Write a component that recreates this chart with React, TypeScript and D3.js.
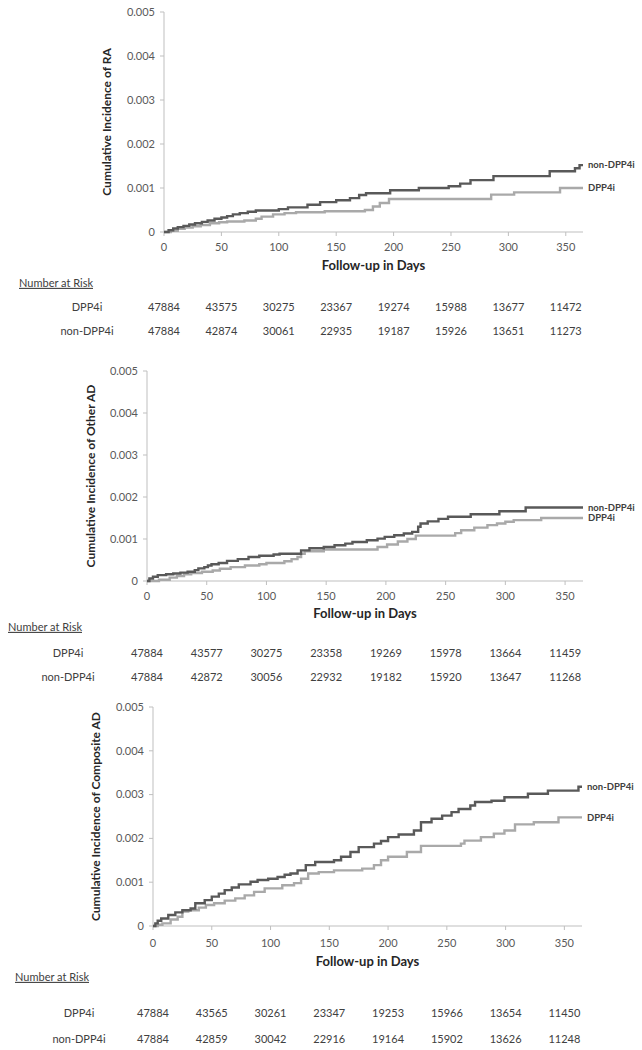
import React from "react";
import * as d3 from "d3";

// ---------- DATA ----------
const xTickDays = [0, 50, 100, 150, 200, 250, 300, 350];
const yTickValues = [0, 0.001, 0.002, 0.003, 0.004, 0.005];
const yTickLabels = ["0", "0.001", "0.002", "0.003", "0.004", "0.005"];
const seriesNames = ["DPP4i", "non-DPP4i"];
const yTitles = [
  "Cumulative Incidence of RA",
  "Cumulative Incidence of Other AD",
  "Cumulative Incidence of Composite AD",
];
const xTitle = "Follow-up in Days";
const riskTitle = "Number at Risk";

// step points [day, cumulative incidence]
const raNon: [number, number][] = [
  [0, 0], [4, 0.00004], [8, 0.00008], [12, 0.00011], [17, 0.00014], [22, 0.00017],
  [27, 0.0002], [33, 0.00023], [38, 0.00026], [44, 0.0003], [50, 0.00033], [55, 0.00036],
  [60, 0.0004], [66, 0.00043], [73, 0.00046], [80, 0.00049], [100, 0.00052], [108, 0.00056],
  [125, 0.00062], [136, 0.00068], [150, 0.00072], [162, 0.00077], [170, 0.00084],
  [176, 0.00088], [197, 0.00095], [222, 0.001], [248, 0.00104], [258, 0.0011],
  [267, 0.00118], [287, 0.00127], [336, 0.00138], [358, 0.00145], [362, 0.00152],
];
const raDpp: [number, number][] = [
  [0, 0], [6, 0.00003], [12, 0.00007], [18, 0.0001], [25, 0.00013], [32, 0.00016],
  [40, 0.0002], [48, 0.00022], [55, 0.00024], [70, 0.00026], [80, 0.0003], [85, 0.00035],
  [95, 0.0004], [105, 0.00043], [115, 0.00045], [140, 0.00047], [175, 0.0005],
  [182, 0.00058], [188, 0.00066], [196, 0.00075], [285, 0.00085], [305, 0.0009],
  [345, 0.001],
];
const otherNon: [number, number][] = [
  [0, 0], [2, 0.00006], [5, 0.0001], [9, 0.00014], [16, 0.00016], [22, 0.00018],
  [28, 0.0002], [34, 0.00022], [40, 0.00026], [43, 0.0003], [48, 0.00033], [51, 0.00037],
  [54, 0.0004], [60, 0.00043], [67, 0.00048], [76, 0.00052], [85, 0.00057], [94, 0.0006],
  [106, 0.00063], [111, 0.00065], [129, 0.00073], [136, 0.00078], [148, 0.00081],
  [157, 0.00085], [166, 0.00089], [172, 0.00093], [184, 0.00097], [193, 0.00101],
  [199, 0.00105], [207, 0.00109], [215, 0.00113], [222, 0.00117], [227, 0.00129],
  [229, 0.00137], [235, 0.00142], [244, 0.00148], [252, 0.00153], [271, 0.00159],
  [295, 0.00166], [317, 0.00175],
];
const otherDpp: [number, number][] = [
  [0, 0], [10, 0.00003], [19, 0.00008], [25, 0.00012], [31, 0.00016], [37, 0.00019],
  [46, 0.00022], [55, 0.00025], [61, 0.00029], [70, 0.00033], [82, 0.00037], [94, 0.0004],
  [100, 0.00043], [115, 0.00047], [121, 0.00052], [126, 0.00057], [129, 0.00065],
  [132, 0.00071], [148, 0.00075], [193, 0.00081], [201, 0.00087], [210, 0.00094],
  [218, 0.001], [225, 0.00108], [258, 0.00114], [263, 0.00121], [274, 0.00127],
  [285, 0.00133], [293, 0.00137], [300, 0.00141], [307, 0.00145], [330, 0.0015],
];
const compNon: [number, number][] = [
  [0, 0], [2, 0.00006], [4, 0.00012], [7, 0.00017], [13, 0.00025], [19, 0.00031],
  [25, 0.00036], [32, 0.0004], [36, 0.00052], [44, 0.00059], [50, 0.00067], [56, 0.00074],
  [61, 0.00082], [67, 0.00088], [73, 0.00095], [83, 0.00101], [89, 0.00105], [98, 0.00108],
  [106, 0.00112], [112, 0.00117], [117, 0.0012], [123, 0.00127], [130, 0.00139],
  [138, 0.00146], [154, 0.0015], [160, 0.00158], [168, 0.00169], [175, 0.0018],
  [188, 0.00188], [194, 0.00194], [200, 0.00203], [209, 0.00209], [222, 0.00218],
  [228, 0.00237], [237, 0.00245], [246, 0.00252], [254, 0.0026], [260, 0.00267],
  [270, 0.00275], [274, 0.00283], [288, 0.00286], [299, 0.00294], [319, 0.00302],
  [336, 0.00309], [362, 0.00318],
];
const compDpp: [number, number][] = [
  [0, 0], [4, 0.00003], [8, 0.00006], [15, 0.00015], [21, 0.00021], [25, 0.00033],
  [30, 0.00036], [39, 0.00042], [45, 0.00048], [52, 0.00052], [61, 0.00058], [70, 0.00063],
  [78, 0.0007], [86, 0.00078], [95, 0.00086], [110, 0.00093], [120, 0.00098],
  [126, 0.00108], [132, 0.0012], [141, 0.00123], [154, 0.00127], [178, 0.00131],
  [188, 0.00139], [194, 0.0015], [200, 0.00158], [216, 0.00169], [228, 0.00183],
  [262, 0.00188], [265, 0.00195], [279, 0.00203], [290, 0.00211], [299, 0.00218],
  [308, 0.00232], [324, 0.00237], [345, 0.00248],
];

const raRiskDpp = [47884, 43575, 30275, 23367, 19274, 15988, 13677, 11472];
const raRiskNon = [47884, 42874, 30061, 22935, 19187, 15926, 13651, 11273];
const otherRiskDpp = [47884, 43577, 30275, 23358, 19269, 15978, 13664, 11459];
const otherRiskNon = [47884, 42872, 30056, 22932, 19182, 15920, 13647, 11268];
const compRiskDpp = [47884, 43565, 30261, 23347, 19253, 15966, 13654, 11450];
const compRiskNon = [47884, 42859, 30042, 22916, 19164, 15902, 13626, 11248];

// ---------- LAYOUT ----------
const W = 642;
const H = 1050;
const FONT = "Lato, 'Open Sans', sans-serif";
const DARK = "#595959";
const LIGHT = "#a9a9a9";
const AXIS = "#bfbfbf";

const panels = [
  { title: yTitles[0], non: raNon, dpp: raDpp, riskDpp: raRiskDpp, riskNon: raRiskNon,
    left: 164, right: 583, top: 12, bottom: 232, yTitleX: 107,
    tickY: 247, xTitleY: 265, narX: 19, narY: 283, row1: 307, row2: 331, rowLabelX: 87 },
  { title: yTitles[1], non: otherNon, dpp: otherDpp, riskDpp: otherRiskDpp, riskNon: otherRiskNon,
    left: 147, right: 583, top: 371, bottom: 581, yTitleX: 91,
    tickY: 596, xTitleY: 613, narX: 8, narY: 627, row1: 653, row2: 677, rowLabelX: 68 },
  { title: yTitles[2], non: compNon, dpp: compDpp, riskDpp: compRiskDpp, riskNon: compRiskNon,
    left: 153, right: 582, top: 707, bottom: 926, yTitleX: 96,
    tickY: 943, xTitleY: 961, narX: 15, narY: 977, row1: 1013, row2: 1039, rowLabelX: 79 },
];

function Panel({ p }: { p: (typeof panels)[number] }) {
  const x = d3.scaleLinear().domain([0, 365]).range([p.left, p.right]);
  const y = d3.scaleLinear().domain([0, 0.005]).range([p.bottom, p.top]);
  const line = d3
    .line<[number, number]>()
    .x((d) => x(d[0]))
    .y((d) => y(d[1]))
    .curve(d3.curveStepAfter);
  const extend = (s: [number, number][]): [number, number][] => [...s, [365, s[s.length - 1][1]]];
  const lastNon = p.non[p.non.length - 1][1];
  const lastDpp = p.dpp[p.dpp.length - 1][1];
  const midY = (p.top + p.bottom) / 2;
  return (
    <g>
      {/* y axis */}
      <line x1={p.left} x2={p.left} y1={p.top} y2={p.bottom} stroke={AXIS} strokeWidth={1} />
      {yTickValues.map((v, i) => (
        <g key={"y" + i}>
          <line x1={p.left - 4} x2={p.left} y1={y(v)} y2={y(v)} stroke={AXIS} />
          <text x={p.left - 9} y={y(v)} dy="0.35em" textAnchor="end" fontSize={11} fill={DARK} fontFamily={FONT}>
            {yTickLabels[i]}
          </text>
        </g>
      ))}
      {/* x axis */}
      <line x1={p.left} x2={p.right} y1={p.bottom} y2={p.bottom} stroke={AXIS} strokeWidth={1} />
      {xTickDays.map((d) => (
        <g key={"x" + d}>
          <line x1={x(d)} x2={x(d)} y1={p.bottom} y2={p.bottom + 4} stroke={AXIS} />
          <text x={x(d)} y={p.tickY} dy="0.35em" textAnchor="middle" fontSize={11} fill={DARK} fontFamily={FONT}>
            {d}
          </text>
        </g>
      ))}
      {/* titles */}
      <text x={(p.left + p.right) / 2} y={p.xTitleY} dy="0.35em" textAnchor="middle" fontSize={13}
        fontWeight="bold" fill="#262626" fontFamily={FONT}>
        {xTitle}
      </text>
      <text transform={`translate(${p.yTitleX},${midY}) rotate(-90)`} textAnchor="middle" dy="0.35em"
        fontSize={12} fontWeight="bold" fill="#262626" fontFamily={FONT}>
        {p.title}
      </text>
      {/* curves */}
      <path d={line(extend(p.dpp)) || ""} fill="none" stroke={LIGHT} strokeWidth={2.4} />
      <path d={line(extend(p.non)) || ""} fill="none" stroke={DARK} strokeWidth={2.4} />
      <text x={p.right + 5} y={y(lastNon)} dy="0.35em" fontSize={9.5} fontWeight="bold" fill="#404040" fontFamily={FONT}>
        {seriesNames[1]}
      </text>
      <text x={p.right + 5} y={y(lastDpp)} dy="0.35em" fontSize={9.5} fontWeight="bold" fill="#404040" fontFamily={FONT}>
        {seriesNames[0]}
      </text>
      {/* number at risk */}
      <text x={p.narX} y={p.narY} dy="0.35em" fontSize={11} fill="#404040" fontFamily={FONT} textDecoration="underline">
        {riskTitle}
      </text>
      <text x={p.rowLabelX} y={p.row1} dy="0.35em" textAnchor="middle" fontSize={11} fill="#404040" fontFamily={FONT}>
        {seriesNames[0]}
      </text>
      <text x={p.rowLabelX} y={p.row2} dy="0.35em" textAnchor="middle" fontSize={11} fill="#404040" fontFamily={FONT}>
        {seriesNames[1]}
      </text>
      {p.riskDpp.map((n, i) => (
        <text key={"r1" + i} x={x(xTickDays[i])} y={p.row1} dy="0.35em" textAnchor="middle" fontSize={11}
          fill="#404040" fontFamily={FONT}>
          {n}
        </text>
      ))}
      {p.riskNon.map((n, i) => (
        <text key={"r2" + i} x={x(xTickDays[i])} y={p.row2} dy="0.35em" textAnchor="middle" fontSize={11}
          fill="#404040" fontFamily={FONT}>
          {n}
        </text>
      ))}
    </g>
  );
}

export default function App() {
  return (
    <svg width={W} height={H} viewBox={`0 0 ${W} ${H}`}
      style={{ position: "absolute", left: 0, top: 0, background: "#fff" }}>
      <rect width={W} height={H} fill="#fff" />
      {panels.map((p, i) => (
        <Panel key={i} p={p} />
      ))}
    </svg>
  );
}
